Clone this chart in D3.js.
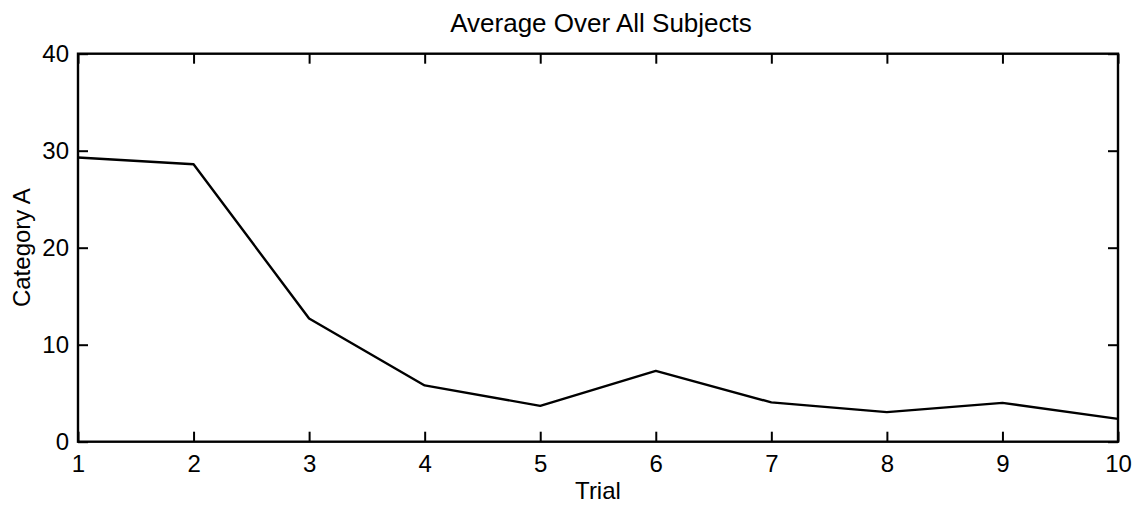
<!DOCTYPE html>
<html>
<head>
<meta charset="utf-8">
<script src="https://cdn.jsdelivr.net/npm/d3@7"></script>
<style>
  body { margin: 0; background: #fff; }
  svg text { font-family: 'Liberation Sans', Arial, Helvetica, sans-serif; fill: #000; }
</style>
</head>
<body>
<div class="chart"></div>
<script>
'use strict';

const trials = [1, 2, 3, 4, 5, 6, 7, 8, 9, 10];
const categoryA = [29.3, 28.6, 12.7, 5.8, 3.7, 7.3, 4.05, 3.05, 4.0, 2.35];
const xTicks = [1, 2, 3, 4, 5, 6, 7, 8, 9, 10];
const yTicks = [0, 10, 20, 30, 40];

const FULL_WIDTH = 1144;
const FULL_HEIGHT = 508;

const margin = {
  top: 53.7,
  right: 26,
  bottom: 66.3,
  left: 78
};

const WIDTH = FULL_WIDTH - margin.left - margin.right;
const HEIGHT = FULL_HEIGHT - margin.top - margin.bottom;

const svg = d3.select('.chart')
  .append('svg')
    .attr('width', FULL_WIDTH)
    .attr('height', FULL_HEIGHT)
  .append('g')
    .attr('transform', 'translate(' + margin.left + ',' + margin.top + ')');

const x = d3.scaleLinear()
  .domain([1, 10])
  .range([0, WIDTH]);

const y = d3.scaleLinear()
  .domain([0, 40])
  .range([HEIGHT, 0]);

// bottom axis, ticks pointing in
svg.append('g')
    .attr('class', 'axis')
    .attr('transform', 'translate(0,' + HEIGHT + ')')
    .call(d3.axisBottom(x).tickValues(xTicks).tickSizeInner(-10).tickSizeOuter(0).tickPadding(13).tickFormat(d3.format('d')));

svg.append('g')
    .attr('class', 'axis')
    .call(d3.axisLeft(y).tickValues(yTicks).tickSizeInner(-10).tickSizeOuter(0).tickPadding(9));

// mirrored ticks on top and right
svg.append('g')
    .attr('class', 'axis')
    .call(d3.axisTop(x).tickValues(xTicks).tickSizeInner(-10).tickSizeOuter(0).tickFormat(''));

svg.append('g')
    .attr('class', 'axis')
    .attr('transform', 'translate(' + WIDTH + ',0)')
    .call(d3.axisRight(y).tickValues(yTicks).tickSizeInner(-10).tickSizeOuter(0).tickFormat(''));

svg.selectAll('.axis .domain').remove();
svg.selectAll('.axis line').attr('stroke', '#000').attr('stroke-width', 2);
svg.selectAll('.axis text').attr('font-size', 24).attr('font-family', null).attr('fill', '#000');

svg.append('rect')
    .attr('x', 0)
    .attr('y', 0)
    .attr('width', WIDTH)
    .attr('height', HEIGHT)
    .attr('fill', 'none')
    .attr('stroke', '#000')
    .attr('stroke-width', 2.4);

const line = d3.line()
  .x((d, i) => x(trials[i]))
  .y((d) => y(d));

svg.append('path')
    .datum(categoryA)
    .attr('d', line)
    .attr('fill', 'none')
    .attr('stroke', '#000')
    .attr('stroke-width', 2.4)
    .attr('stroke-linejoin', 'round');

svg.append('text')
    .attr('x', WIDTH / 2 + 3)
    .attr('y', 31.7 - margin.top)
    .attr('text-anchor', 'middle')
    .attr('font-size', 26)
    .text('Average Over All Subjects');

svg.append('text')
    .attr('x', WIDTH / 2)
    .attr('y', 499 - margin.top)
    .attr('text-anchor', 'middle')
    .attr('font-size', 24)
    .text('Trial');

svg.append('text')
    .attr('transform', 'translate(' + (30 - margin.left) + ',' + (HEIGHT / 2) + ') rotate(-90)')
    .attr('text-anchor', 'middle')
    .attr('font-size', 24)
    .text('Category A');
</script>
</body>
</html>
